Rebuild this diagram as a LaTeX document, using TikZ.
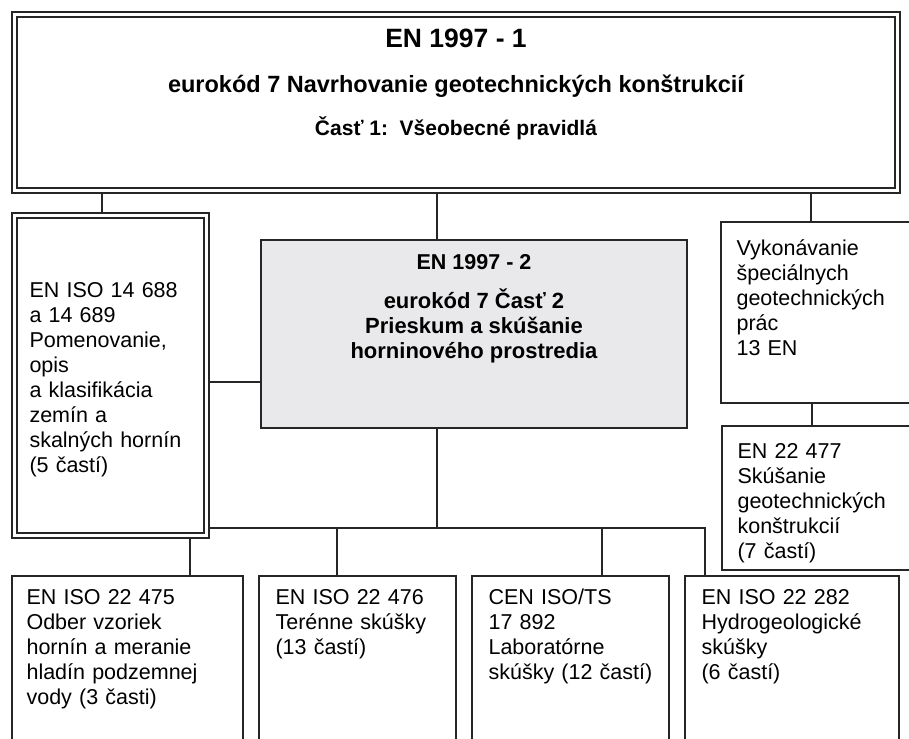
\documentclass[tikz,border=0pt]{standalone}
\usepackage{fontspec}
\setmainfont{Liberation Sans}
\usepackage{tikz}
\usetikzlibrary{positioning}
\definecolor{boxgray}{RGB}{233,233,235}

\begin{document}
\begin{tikzpicture}[x=1pt,y=-1pt]
  \useasboundingbox (0,0) rectangle (909,738);
  \clip (0,0) rectangle (909,738);
  \tikzstyle{box} = [shape=rectangle, draw=black!85, line width=1.3pt, inner sep=0pt]
  \tikzstyle{dbox} = [box, double, double distance=3.7pt, outer sep=3.2pt]
  \tikzstyle{txt} = [inner sep=0pt, align=left, text width=195pt, font=\fontsize{21.5}{25}\selectfont]
  \tikzstyle{head} = [inner sep=0pt, anchor=base]
  \tikzstyle{link} = [line width=1.8pt, draw=black!85]

  % EN 1997-1
  \node (en1) [dbox, minimum width=883pt, minimum height=176pt] at (456,102.5) {};
  \node (en1a) [head] at (456,48) {\fontsize{26.5}{30}\selectfont\bfseries EN 1997 - 1};
  \node (en1b) [head] at (456,93) {\fontsize{23.5}{27}\selectfont\bfseries eurokód 7 Navrhovanie geotechnických konštrukcií};
  \node (en1c) [head] at (456,136) {\fontsize{21}{25}\selectfont\bfseries Časť 1:\ \ Všeobecné pravidlá};

  % second row
  \node (lft) [dbox, minimum width=192pt, minimum height=320pt] at (110.5,375.5) {};
  \node (ctr) [box, fill=boxgray, minimum width=426pt, minimum height=188pt] at (474,334) {};
  \node (prac) [box, minimum width=219pt, minimum height=181pt] at (830.5,312.5) {};
  \node (skus) [box, minimum width=218pt, minimum height=144pt] at (831,498) {};

  \node (en2a) [head] at (474,269) {\fontsize{21.5}{25}\selectfont\bfseries EN 1997 - 2};
  \node (en2b) [head, align=center, font=\fontsize{22}{25}\selectfont\bfseries] at (474,358)
    {eurokód 7 Časť 2\\Prieskum a skúšanie\\horninového prostredia};

  \node (lfttxt) [txt, below right=67pt and 18pt of lft.north west]
    {\strut EN ISO 14 688\\a 14 689\\Pomenovanie,\\opis\\a klasifikácia\\zemín a\\skalných hornín\\(5 častí)};
  \node (practxt) [txt, below right=16pt and 16pt of prac.north west]
    {\strut Vykonávanie\\špeciálnych\\geotechnických\\prác\\13 EN};
  \node (skustxt) [txt, below right=15pt and 16pt of skus.north west]
    {\strut EN 22 477\\Skúšanie\\geotechnických\\konštrukcií\\(7 častí)};

  % bottom row
  \node (odber) [box, minimum width=231pt, minimum height=184pt] at (127.5,668) {};
  \node (teren) [box, minimum width=197pt, minimum height=184pt] at (357.5,668) {};
  \node (lab) [box, minimum width=197pt, minimum height=184pt] at (570.5,668) {};
  \node (hydro) [box, minimum width=214pt, minimum height=184pt] at (792,668) {};

  \node (odbertxt) [txt, below right=11pt and 15pt of odber.north west]
    {\strut EN ISO 22 475\\Odber vzoriek\\hornín a meranie\\hladín podzemnej\\vody (3 časti)};
  \node (terentxt) [txt, below right=11pt and 17pt of teren.north west]
    {\strut EN ISO 22 476\\Terénne skúšky\\(13 častí)};
  \node (labtxt) [txt, below right=11pt and 17pt of lab.north west]
    {\strut CEN ISO/TS\\17 892\\Laboratórne\\skúšky (12 častí)};
  \node (hydrotxt) [txt, below right=11pt and 17pt of hydro.north west]
    {\strut EN ISO 22 282\\Hydrogeologické\\skúšky\\(6 častí)};

  % links
  \coordinate (bus) at (437,528);
  \draw [link] ([xshift=-8.5pt]lft.north) -- ([xshift=-8.5pt]lft.north |- en1.south);
  \draw [link] ([xshift=-37pt]ctr.north) -- ([xshift=-37pt]ctr.north |- en1.south);
  \draw [link] ([xshift=-19.5pt]prac.north) -- ([xshift=-19.5pt]prac.north |- en1.south);
  \draw [link] ([yshift=-6.5pt]lft.east) -- ([yshift=-6.5pt]lft.east -| ctr.west);
  \draw [link] ([xshift=-18.5pt]prac.south) -- ([xshift=-18.5pt]prac.south |- skus.north);
  \draw [link] ([xshift=-37pt]ctr.south) -- (bus);
  \draw [link] (lft.east |- bus) -| ([xshift=-87pt]hydro.north);
  \draw [link] ([xshift=-20.5pt]teren.north) -- ([xshift=-20.5pt]teren.north |- bus);
  \draw [link] ([xshift=31.5pt]lab.north) -- ([xshift=31.5pt]lab.north |- bus);
  \draw [link] ([xshift=62.5pt]odber.north) -- ([xshift=62.5pt]odber.north |- lft.south);
\end{tikzpicture}
\end{document}
